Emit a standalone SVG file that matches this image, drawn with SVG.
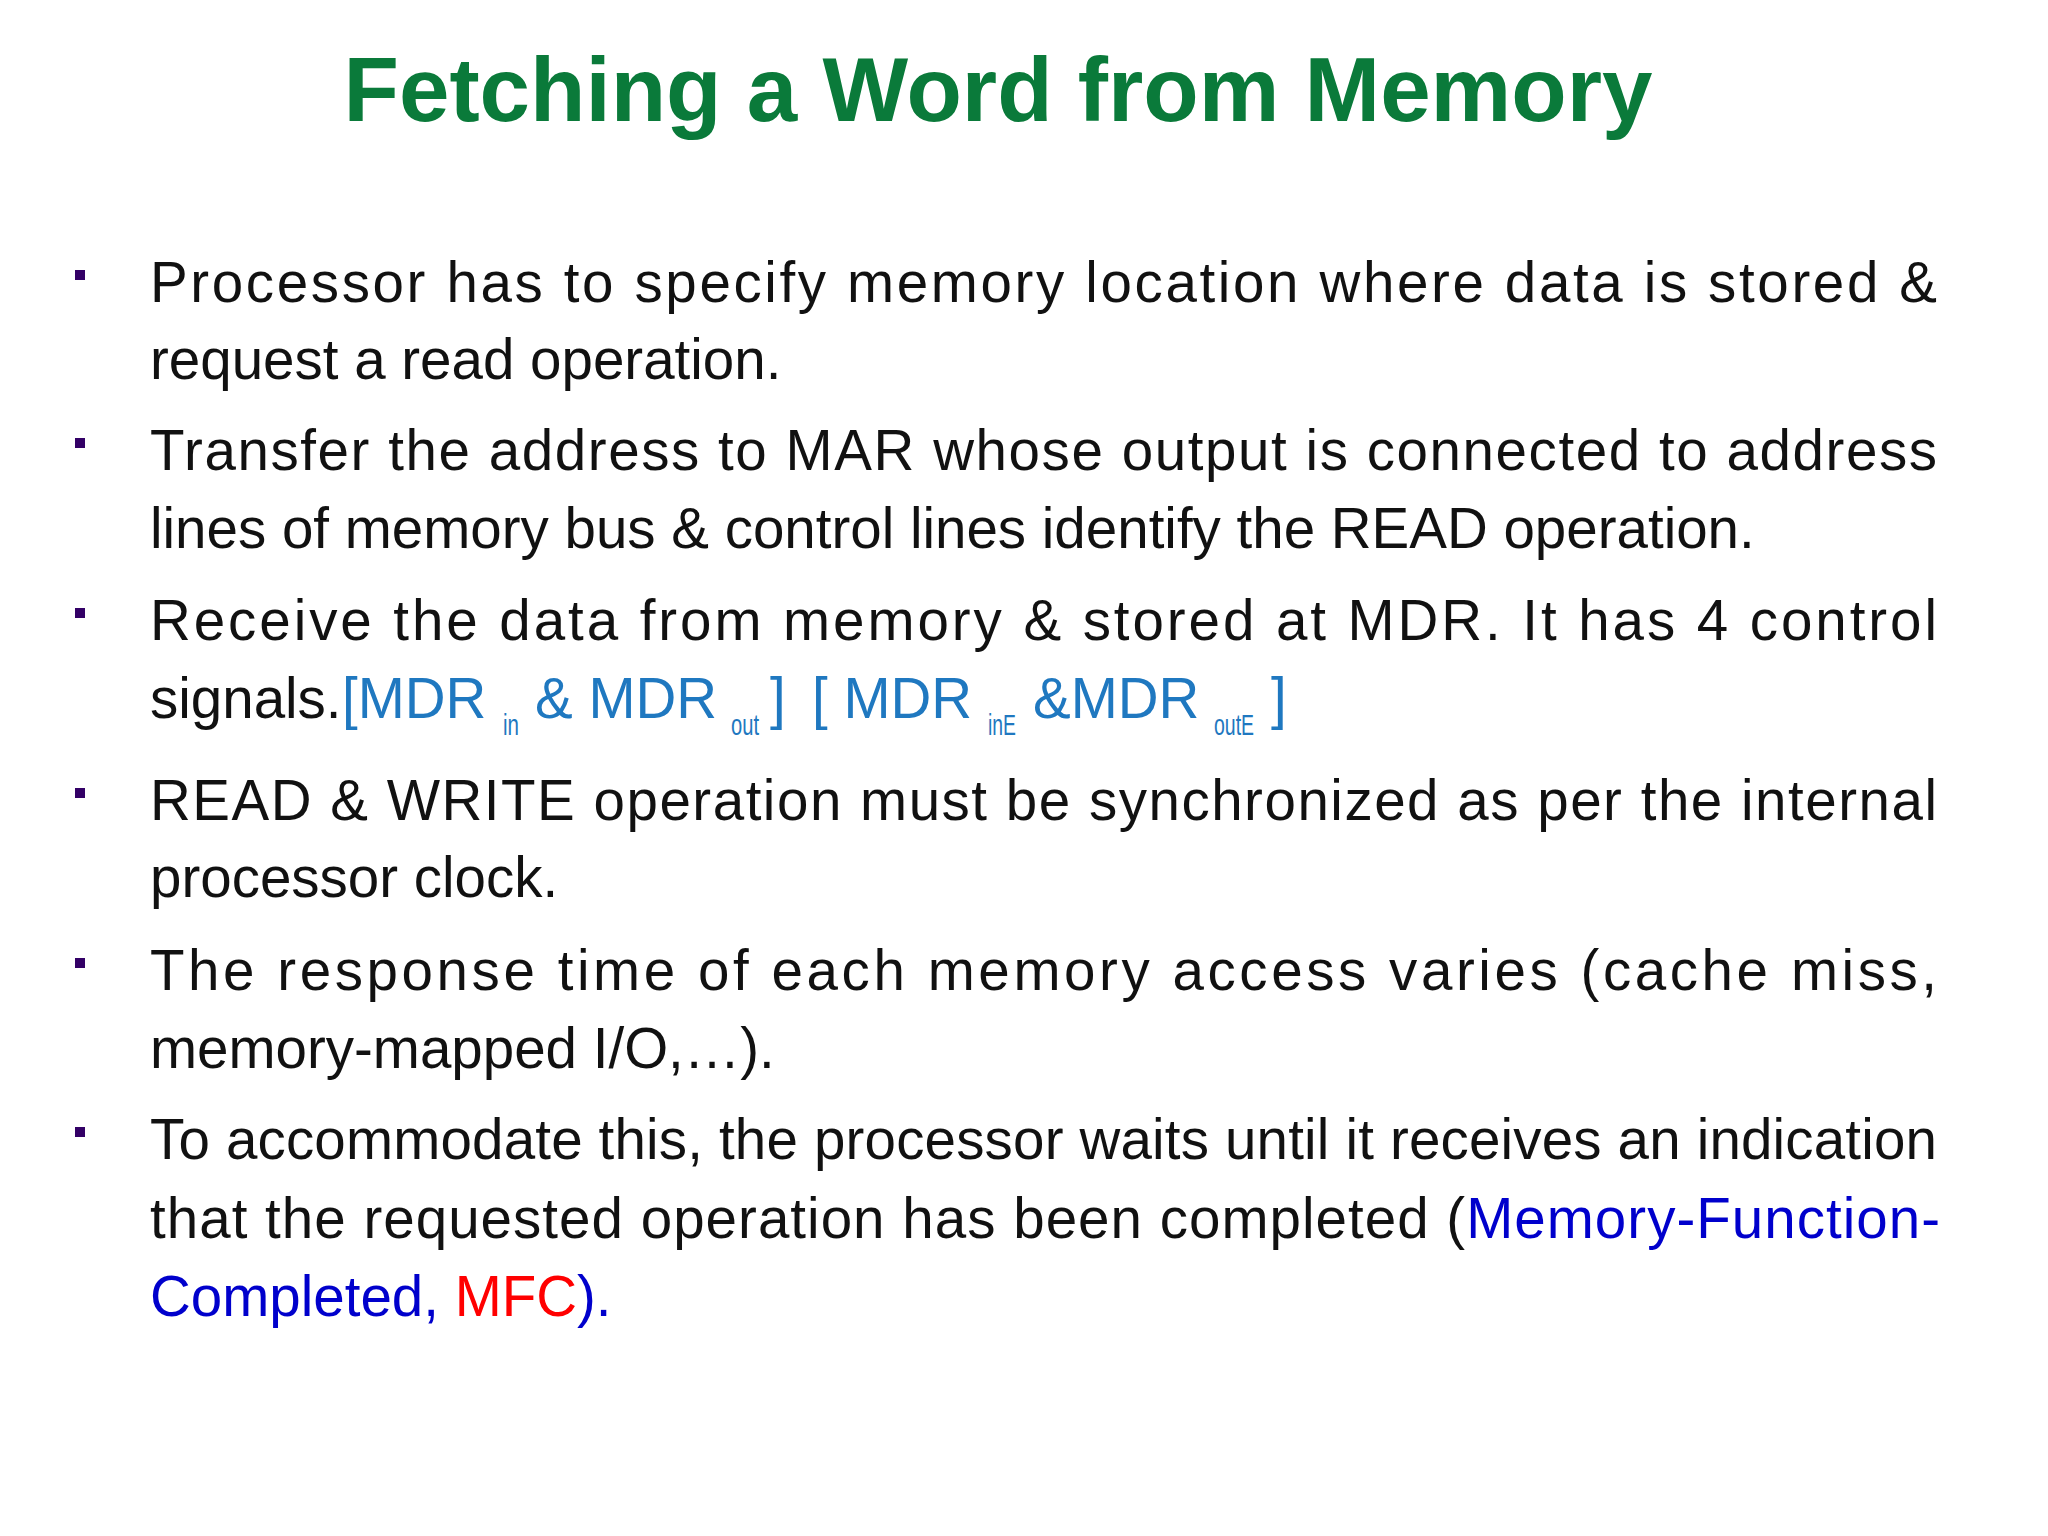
<svg xmlns="http://www.w3.org/2000/svg" width="2048" height="1536" viewBox="0 0 2048 1536">
<style>
.t{font-family:"Liberation Sans",Arial,sans-serif;font-size:56.5px;fill:#111}
.b{fill:#330066}
.bl{fill:#1f78c0}
.sub{font-size:30px}
.mf{fill:#0000cc}
.red{fill:#ff0000}
</style>
<rect width="2048" height="1536" fill="#fff"/>
<text x="998" y="121" text-anchor="middle" font-family="Liberation Sans,Arial,sans-serif" font-weight="bold" font-size="91" fill="#0a7a3a" textLength="1309" lengthAdjust="spacingAndGlyphs">Fetching a Word from Memory</text>
<g id="bullets">
<rect class="b" x="75" y="270" width="10" height="10"/>
<rect class="b" x="75" y="438" width="10" height="10"/>
<rect class="b" x="75" y="608" width="10" height="10"/>
<rect class="b" x="75" y="788" width="10" height="10"/>
<rect class="b" x="75" y="958" width="10" height="10"/>
<rect class="b" x="75" y="1127" width="10" height="10"/>
</g>
<g id="text">
<text class="t" x="150" y="302" textLength="1787" lengthAdjust="spacing">Processor has to specify memory location where data is stored &amp;</text>
<text class="t" x="150" y="379">request a read operation.</text>
<text class="t" x="150" y="470" textLength="1787" lengthAdjust="spacing">Transfer the address to MAR whose output is connected to address</text>
<text class="t" x="150" y="548">lines of memory bus &amp; control lines identify the READ operation.</text>
<text class="t" x="150" y="640" textLength="1787" lengthAdjust="spacing">Receive the data from memory &amp; stored at MDR. It has 4 control</text>
<text class="t" x="150" y="718">signals.</text>
<text class="t bl" x="342" y="718">[MDR</text>
<text class="t bl sub" x="503" y="735" textLength="16" lengthAdjust="spacingAndGlyphs">in</text>
<text class="t bl" x="535" y="718">&amp; MDR</text>
<text class="t bl sub" x="731" y="735" textLength="28" lengthAdjust="spacingAndGlyphs">out</text>
<text class="t bl" x="770" y="718">]</text>
<text class="t bl" x="812" y="718">[ MDR</text>
<text class="t bl sub" x="988" y="735" textLength="28" lengthAdjust="spacingAndGlyphs">inE</text>
<text class="t bl" x="1033" y="718">&amp;MDR</text>
<text class="t bl sub" x="1214" y="735" textLength="40" lengthAdjust="spacingAndGlyphs">outE</text>
<text class="t bl" x="1271" y="718">]</text>
<text class="t" x="150" y="820" textLength="1787" lengthAdjust="spacing">READ &amp; WRITE operation must be synchronized as per the internal</text>
<text class="t" x="150" y="897">processor clock.</text>
<text class="t" x="150" y="990" textLength="1787" lengthAdjust="spacing">The response time of each memory access varies (cache miss,</text>
<text class="t" x="150" y="1068">memory-mapped I/O,…).</text>
<text class="t" x="150" y="1159" textLength="1787" lengthAdjust="spacing">To accommodate this, the processor waits until it receives an indication</text>
<text class="t" x="150" y="1238" textLength="1790" lengthAdjust="spacing">that the requested operation has been completed (<tspan class="mf">Memory-Function-</tspan></text>
<text class="t mf" x="150" y="1316">Completed, <tspan class="red">MFC</tspan>).</text>
</g>
</svg>
